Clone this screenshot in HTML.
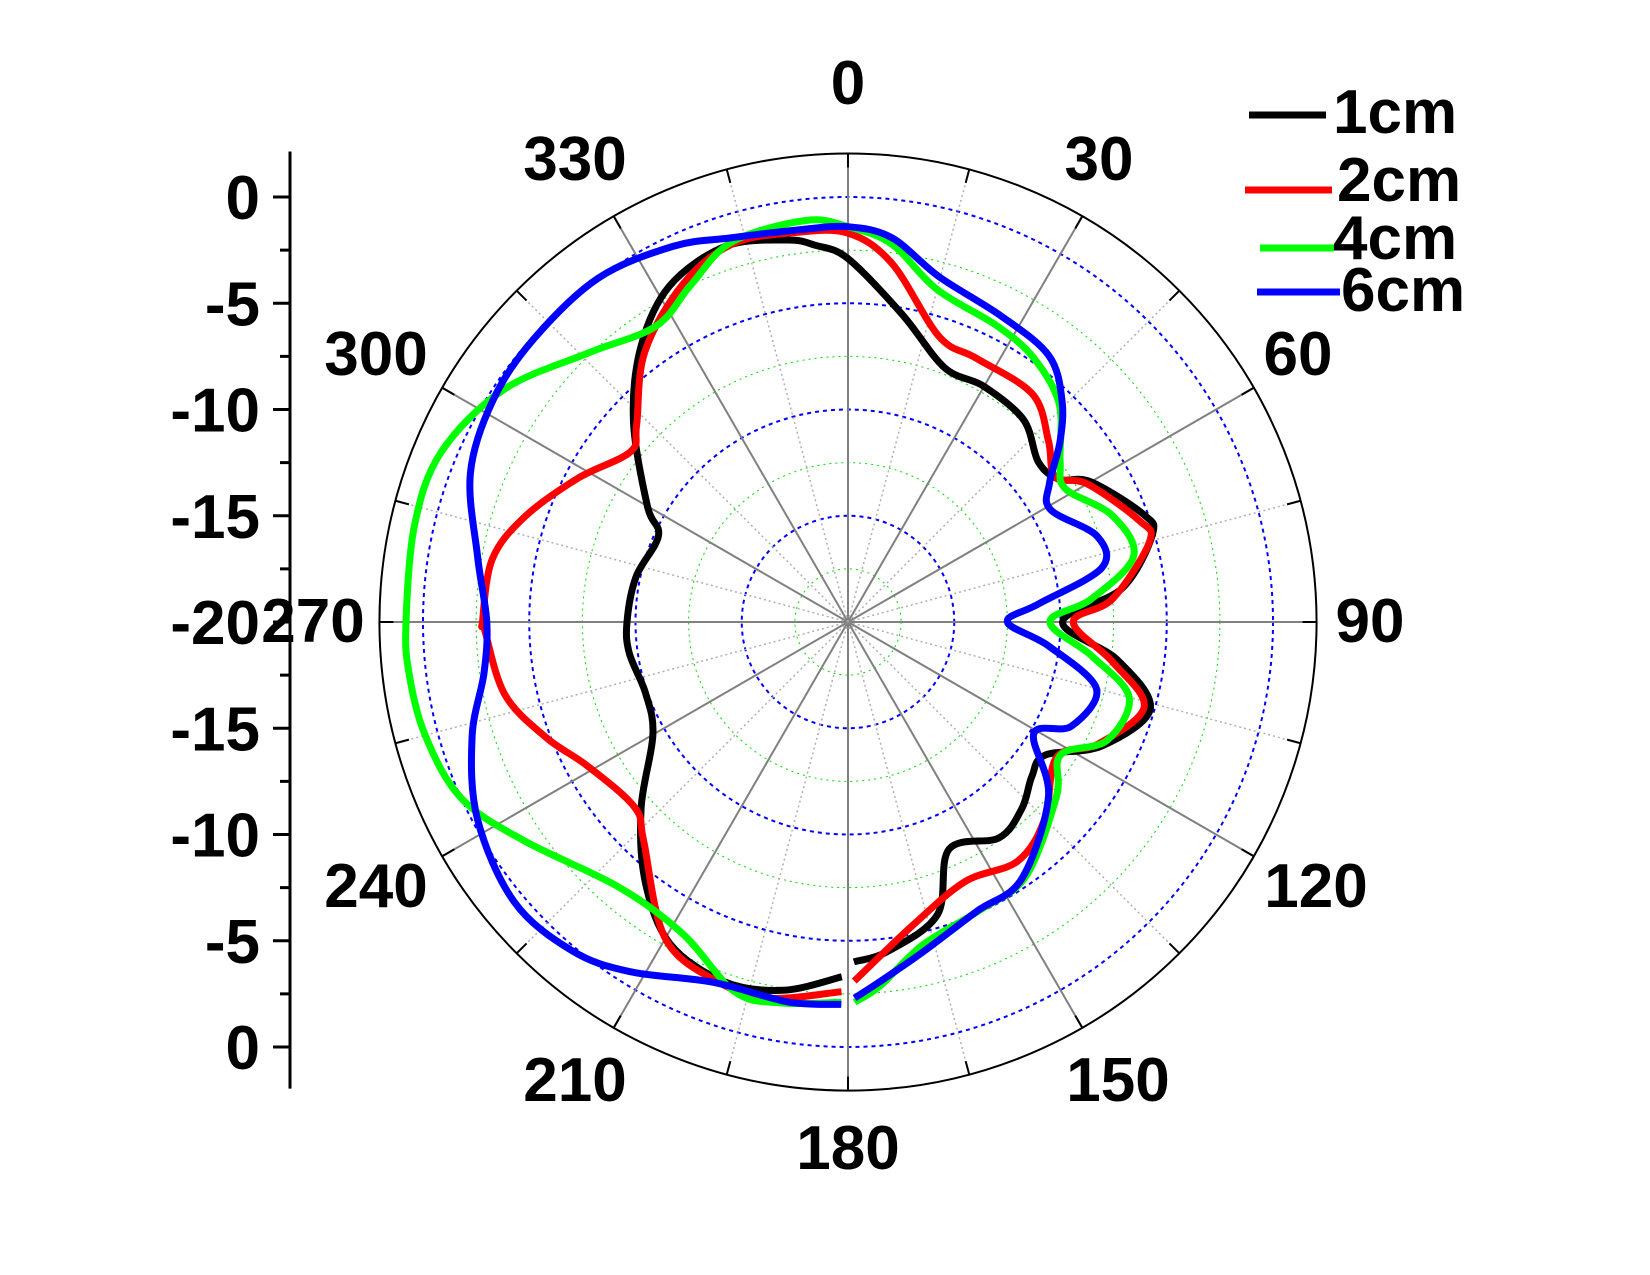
<!DOCTYPE html>
<html><head><meta charset="utf-8"><style>
html,body{margin:0;padding:0;background:#fff;width:1650px;height:1275px;overflow:hidden}
svg{display:block}
text{font-family:"Liberation Sans",Arial,sans-serif;font-weight:bold;fill:#000}
</style></head><body>
<svg id="chart" width="1650" height="1275" viewBox="0 0 1650 1275" xmlns="http://www.w3.org/2000/svg">
<g id="grid"></g>
<g id="axis"></g>
<g id="series"></g>
<g id="legend"></g>
</svg>
<script>
// ---- data ----
const angles1 = [181,190,199,209,218,228,240,250.6,262,270,282,294.5,300,313,323,332,342,351,355,360,370,380.8,390,401,410,416,420,430,434,443,450,458,466,476,484,490,497,505,516,523,533,539];
const values1 = [-3.3,-2.4,-2.1,-2.7,-4.5,-6.9,-9.4,-9.9,-9.6,-9.6,-9.8,-10.2,-9.1,-6.2,-3.8,-2.1,-1.4,-1.8,-2.2,-2.9,-5.3,-7.2,-7.2,-7.4,-8.3,-8.0,-6.8,-5.2,-5.1,-7.0,-9.9,-7.2,-5.2,-6.7,-8.8,-8.7,-8.0,-7.6,-8.3,-5.6,-4.4,-4.0];
const angles2 = [181,192,200,210,223,229,241,249,258,268.7,270,280,288,298,308,313,323,334,343,352,360,367,377.7,386,399,408,415,420,430.7,435,445,450,458.6,466,476,483,495,504.6,515.7,528,539];
const values2 = [-2.6,-1.9,-2.0,-2.8,-5.9,-6.7,-6.0,-4.8,-3.5,-2.9,-2.8,-3.0,-4.0,-5.6,-7.0,-6.4,-4.1,-2.3,-1.4,-1.5,-1.7,-3.0,-5.9,-6.2,-6.2,-7.3,-8.1,-7.0,-5.5,-5.3,-7.5,-9.4,-7.4,-5.5,-6.9,-8.3,-6.9,-6.2,-6.6,-5.4,-3.1];
const angles3 = [181,190,197,208,221,236,245.5,255,263.5,270,282.5,292.6,304,316,327,335,343,354,360,366.6,375,386.7,395,404,413,418.5,428,437,444.6,450,458,465,474.6,482,490,505,515,527,535,539];
const values3 = [-2.1,-1.8,-1.8,-3.4,-3.5,-1.6,0.0,0.6,0.8,0.8,0.9,0.75,-0.45,-2.4,-3.4,-2.5,-1.3,-1.0,-1.4,-2.1,-3.8,-4.4,-4.8,-5.7,-7.5,-8.0,-6.6,-6.2,-8.5,-10.5,-8.4,-6.3,-6.6,-8.2,-7.2,-5.4,-5.1,-4.4,-2.8,-2.1];
const angles4 = [181,189,200.5,212,220,230,242,253,262,270,280,291.5,302,312,324,335,343,353,360,366.5,374.8,386.7,397,404,409.6,415.5,421,431,438,444.6,450,456.8,465,475,481,491,506,516,527,535,539];
const values4 = [-2.0,-1.9,-1.9,-0.6,0.2,0.5,-0.25,-1.5,-2.7,-3.0,-2.3,-0.9,-0.3,-0.1,0.0,-0.5,-1.1,-1.4,-1.4,-1.8,-3.2,-3.9,-4.3,-5.5,-6.9,-8.5,-9.1,-7.6,-7.8,-11.0,-12.5,-10.5,-7.9,-8.4,-9.8,-7.5,-5.4,-5.1,-4.1,-3.0,-2.3];
const seriesNames = ["1cm","2cm","4cm","6cm"];
const angleTicks = [0,30,60,90,120,150,180,210,240,270,300,330];
const radialTicks = [0,-5,-10,-15,-20];

// ---- geometry ----
const CX=848, CY=622, RMIN=-20, RMAX=2.05, PXDB=21.25;
const NS="http://www.w3.org/2000/svg";
function rScale(v){return (v-RMIN)*PXDB;}
function pt(a,v){const t=a*Math.PI/180, r=rScale(v);return [CX+r*Math.sin(t), CY-r*Math.cos(t)];}
function mk(tag,attrs,parent){const e=document.createElementNS(NS,tag);for(const k in attrs)e.setAttribute(k,attrs[k]);parent.appendChild(e);return e;}
const grid=document.getElementById('grid'), axis=document.getElementById('axis'), ser=document.getElementById('series'), leg=document.getElementById('legend');
const ROUT=rScale(RMAX);

for(let v=-17.5; v<=0.01; v+=2.5){
  const major = Math.abs(v%5)<0.01;
  const c=mk('circle',{cx:CX,cy:CY,r:rScale(v),fill:'none',stroke:major?'#0000ff':'#00dd00','stroke-width':major?2:1,'stroke-dasharray':major?'4 4':'2 4'},grid);
  
  
}
for(let a=0;a<360;a+=15){
  const [x,y]=pt(a,RMAX);
  const major=a%30===0;
  const l=mk('line',{x1:CX,y1:CY,x2:x,y2:y,stroke:major?'#808080':'#b0b0b0','stroke-width':major?2:1.5,'stroke-dasharray':major?'':'2 3'},grid);
  
  
  const t=a*Math.PI/180;
  const tk=mk('line',{x1:CX+ROUT*Math.sin(t),y1:CY-ROUT*Math.cos(t),x2:CX+(ROUT-14)*Math.sin(t),y2:CY-(ROUT-14)*Math.cos(t),stroke:'#000','stroke-width':2},grid);
  
  
}
const oc=mk('circle',{cx:CX,cy:CY,r:ROUT,fill:'none',stroke:'#000','stroke-width':2},grid);


// angle label anchor positions (layout, not data)
const labPos={0:[848,82],30:[1099,158],60:[1298,353],90:[1370,620],120:[1316,885],150:[1118,1079],180:[848,1147],210:[575,1079],240:[376,885],270:[313,620],300:[376,353],330:[575,158]};
angleTicks.forEach(a=>{
  const p=labPos[a];
  const tx=mk('text',{x:p[0],y:p[1]+22,'font-size':62,'text-anchor':'middle'},grid);
  tx.textContent=String(a);
  
  
});
const AX=290;
const al=mk('line',{x1:AX,y1:CY-ROUT-2,x2:AX,y2:CY+ROUT-2,stroke:'#000','stroke-width':3},axis);


for(let v=RMIN; v<=0.01; v+=2.5){
  const major=Math.abs(v%5)<0.01;
  [CY-rScale(v), CY+rScale(v)].forEach((y,i)=>{
    if(i===1 && v===RMIN) return;
    const tk=mk('line',{x1:AX-(major?17:10),y1:y,x2:AX,y2:y,stroke:'#000','stroke-width':3},axis);
    
    
  });
}
radialTicks.forEach(v=>{
  [CY-rScale(v), CY+rScale(v)].forEach((y,i)=>{
    if(i===1 && v===RMIN) return;
    const tx=mk('text',{x:260,y:y+22,'font-size':62,'text-anchor':'end'},axis);
    tx.textContent=String(v);
    
    
  });
});
const colors=['#000000','#ff0000','#00ff00','#0000ff'];
const all=[[angles1,values1],[angles2,values2],[angles3,values3],[angles4,values4]];
function smoothPath(P){
  let d='M'+P[0][0].toFixed(1)+','+P[0][1].toFixed(1);
  for(let i=0;i<P.length-1;i++){
    const p0=P[Math.max(i-1,0)],p1=P[i],p2=P[i+1],p3=P[Math.min(i+2,P.length-1)];
    const c1=[p1[0]+(p2[0]-p0[0])/6,p1[1]+(p2[1]-p0[1])/6];
    const c2=[p2[0]-(p3[0]-p1[0])/6,p2[1]-(p3[1]-p1[1])/6];
    d+=' C'+c1[0].toFixed(1)+','+c1[1].toFixed(1)+' '+c2[0].toFixed(1)+','+c2[1].toFixed(1)+' '+p2[0].toFixed(1)+','+p2[1].toFixed(1);
  }
  return d;
}
all.forEach(([A,V],k)=>{
  const P=A.map((a,i)=>pt(a,V[i]));
  const p=mk('path',{d:smoothPath(P),fill:'none',stroke:colors[k],'stroke-width':7,'stroke-linejoin':'round'},ser);
  
  
});
const legY=[115,190,248,292], legX1=[1249,1245,1260,1257], legX2=[1326,1332,1334,1340], txtX=[1333,1337,1333,1341], txtY=[133,201,259,311];
seriesNames.forEach((n,k)=>{
  const l=mk('line',{x1:legX1[k],y1:legY[k],x2:legX2[k],y2:legY[k],stroke:colors[k],'stroke-width':7},leg);
  
  
  const t=mk('text',{x:txtX[k],y:txtY[k],'font-size':62},leg);
  t.textContent=n;
  
  
});
</script>
</body></html>
